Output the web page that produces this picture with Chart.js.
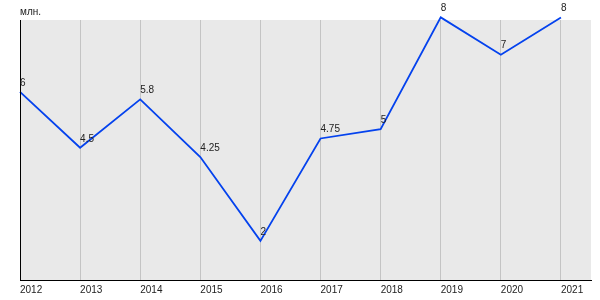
<!DOCTYPE html>
<html>
<head>
<meta charset="utf-8">
<script src="https://cdn.jsdelivr.net/npm/chart.js@4"></script>
<style>
  html, body { margin: 0; padding: 0; background: #fff; }
  #wrap { width: 600px; height: 300px; }
</style>
</head>
<body>
<div id="wrap"><canvas id="lineChart"></canvas></div>
<script>
const years = [2012, 2013, 2014, 2015, 2016, 2017, 2018, 2019, 2020, 2021];
const values = [6, 4.5, 5.8, 4.25, 2, 4.75, 5, 8, 7, 8];
const valueLabels = ['6', '4.5', '5.8', '4.25', '2', '4.75', '5', '8', '7', '8'];
const unitLabel = 'млн.';

const fontFamily = 'Arial, "Liberation Sans", sans-serif';

// grey plot background, axis lines, unit caption and point labels
const decor = {
    id: 'decor',
    beforeDraw(chart) {
        const { ctx, chartArea: a } = chart;
        ctx.save();
        ctx.fillStyle = '#e9e9e9';
        ctx.fillRect(a.left, a.top, a.right - a.left, a.bottom - a.top);
        ctx.restore();
    },
    afterDatasetsDraw(chart) {
        const { ctx, chartArea: a } = chart;
        ctx.save();
        ctx.strokeStyle = '#000';
        ctx.lineWidth = 1;
        ctx.beginPath();
        ctx.moveTo(a.left + 0.5, a.top);
        ctx.lineTo(a.left + 0.5, a.bottom);
        ctx.stroke();

        ctx.font = '10px ' + fontFamily;
        ctx.fillStyle = '#222';
        ctx.textAlign = 'left';
        ctx.textBaseline = 'bottom';
        ctx.fillText(unitLabel, a.left, a.top - 3);

        const meta = chart.getDatasetMeta(0);
        meta.data.forEach((pt, i) => {
            ctx.fillText(valueLabels[i], pt.x, pt.y - 4);
        });
        ctx.restore();
    }
};

new Chart(document.getElementById('lineChart'), {
    type: 'line',
    data: {
        datasets: [{
            data: years.map((y, i) => ({ x: y, y: values[i] })),
            borderColor: '#0442ee',
            borderWidth: 1.8,
            pointRadius: 0,
            tension: 0,
            fill: false,
            clip: false,
        }],
    },
    options: {
        responsive: true,
        maintainAspectRatio: false,
        animation: false,
        layout: { padding: { left: 20, top: 20, right: 9, bottom: 0 } },
        plugins: {
            legend: { display: false },
            tooltip: { enabled: false },
        },
        scales: {
            x: {
                type: 'linear',
                min: 2012,
                max: 2021.5,
                afterBuildTicks: (scale) => {
                    scale.ticks = years.map(v => ({ value: v }));
                },
                afterFit: (scale) => { scale.height = 20; },
                grid: { color: '#c4c4c4', drawTicks: false },
                border: { color: '#000', width: 1 },
                ticks: {
                    autoSkip: false,
                    maxRotation: 0,
                    align: 'start',
                    padding: 4,
                    color: '#222',
                    font: { size: 10, family: fontFamily },
                    callback: (v) => String(v),
                },
            },
            y: {
                display: false,
                min: 0.95,
                max: 7.93,
            },
        },
    },
    plugins: [decor],
});
</script>
</body>
</html>
